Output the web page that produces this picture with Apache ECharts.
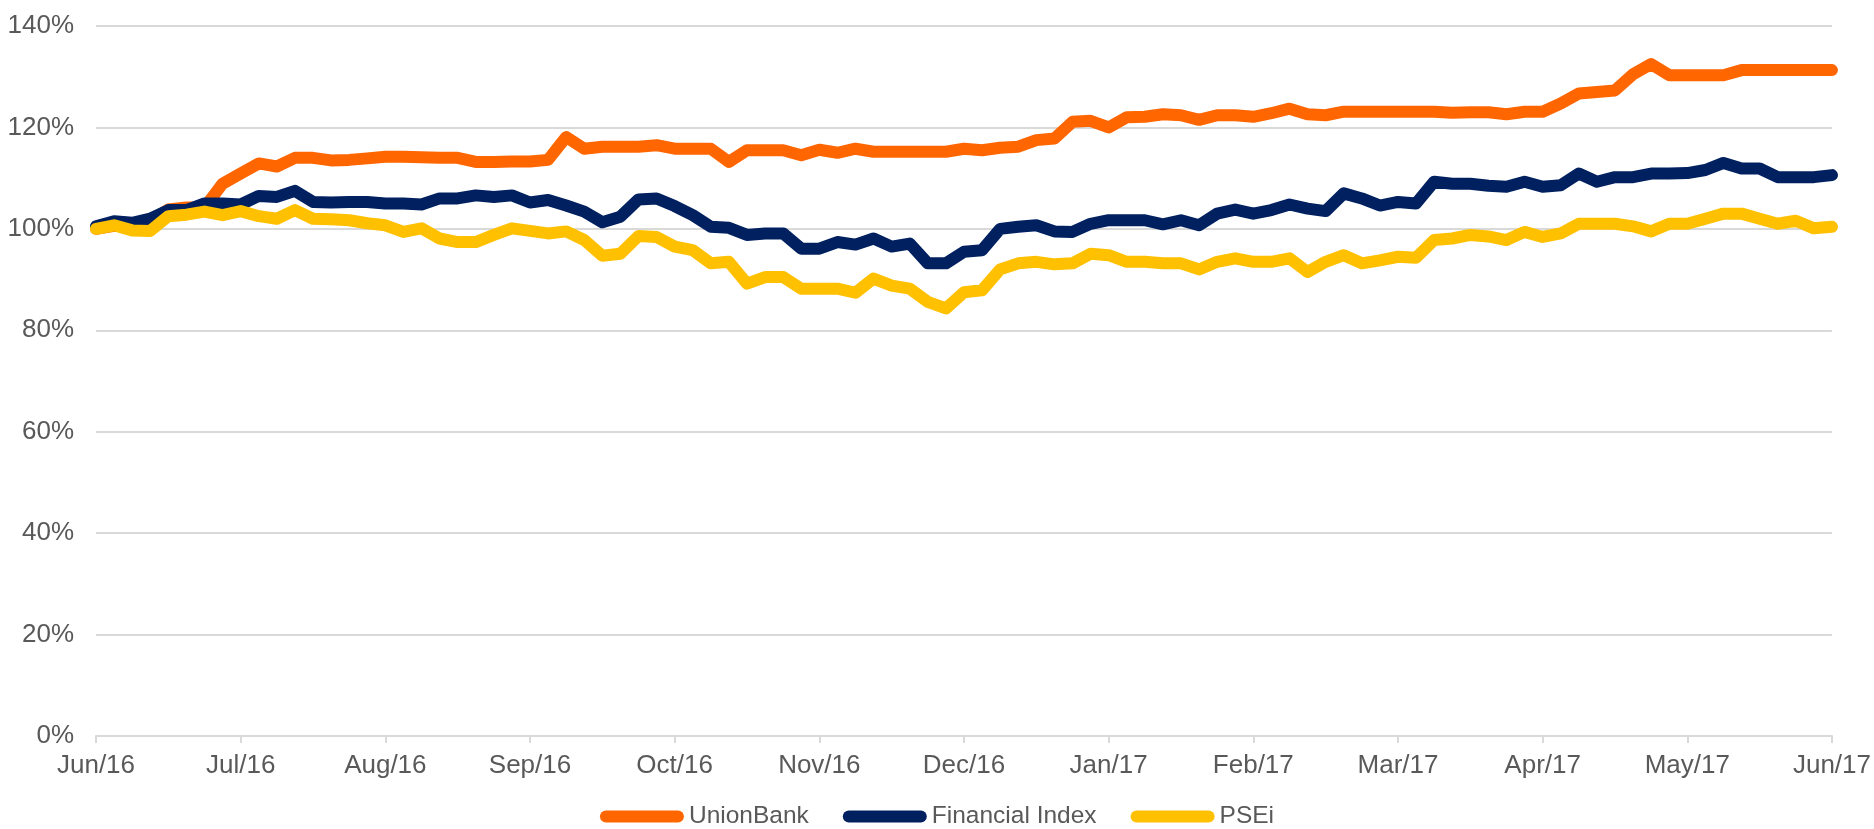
<!DOCTYPE html>
<html>
<head>
<meta charset="utf-8">
<script src="https://cdn.jsdelivr.net/npm/echarts@6/dist/echarts.min.js"></script>
<style>
    html, body { margin: 0; padding: 0; background: #fff; }
    #chart { width: 1874px; height: 829px; }
</style>
</head>
<body>
<div id="chart"></div>
<script>
// month tick labels, one every 8 points
let monthLabels = ['Jun/16', 'Jul/16', 'Aug/16', 'Sep/16', 'Oct/16', 'Nov/16', 'Dec/16',
    'Jan/17', 'Feb/17', 'Mar/17', 'Apr/17', 'May/17', 'Jun/17'];
let pointsPerMonth = 8;

// relative performance, % of start value
let unionBank = [
    100, 100.6, 100.4, 101.5, 103.8, 104.2, 104.2, 108.9, 110.9, 112.9, 112.3, 114.0, 114.0, 113.5, 113.6, 113.9,
    114.2, 114.2, 114.1, 114.0, 114.0, 113.2, 113.2, 113.3, 113.3, 113.6, 118.1, 115.8, 116.2, 116.2, 116.2, 116.5,
    115.8, 115.8, 115.8, 113.2, 115.5, 115.5, 115.5, 114.5, 115.6, 115.0, 115.8, 115.2, 115.2, 115.2, 115.2, 115.2,
    115.8, 115.5, 116.0, 116.2, 117.5, 117.8, 121.1, 121.3, 120.0, 122.0, 122.1, 122.6, 122.4, 121.5, 122.4, 122.4,
    122.1, 122.8, 123.7, 122.6, 122.4, 123.1, 123.1, 123.1, 123.1, 123.1, 123.1, 122.9, 123.0, 123.0, 122.6, 123.1,
    123.1, 124.7, 126.7, 127.0, 127.3, 130.5, 132.5, 130.3, 130.3, 130.3, 130.3, 131.3, 131.3, 131.3, 131.3, 131.3, 131.3
];
let financialIndex = [
    100.5, 101.5, 101.2, 102.0, 103.7, 103.7, 105.0, 105.0, 104.8, 106.5, 106.3, 107.5, 105.3, 105.2, 105.3, 105.3,
    105.0, 105.0, 104.8, 106.0, 106.0, 106.6, 106.3, 106.6, 105.2, 105.7, 104.6, 103.4, 101.3, 102.4, 105.8, 106.0,
    104.5, 102.7, 100.4, 100.2, 98.8, 99.1, 99.1, 96.1, 96.1, 97.4, 96.9, 98.1, 96.5, 97.1, 93.2, 93.2,
    95.5, 95.8, 100.0, 100.4, 100.7, 99.5, 99.4, 101.0, 101.7, 101.7, 101.7, 100.9, 101.7, 100.7, 103.0, 103.8,
    103.0, 103.7, 104.8, 104.0, 103.5, 107.0, 106.0, 104.6, 105.3, 105.0, 109.3, 108.9, 108.9, 108.5, 108.3, 109.3,
    108.3, 108.6, 110.9, 109.3, 110.2, 110.2, 110.9, 110.9, 111.0, 111.6, 113.0, 111.9, 111.9, 110.2, 110.2, 110.2, 110.6
];
let psei = [
    100, 100.7, 99.7, 99.6, 102.5, 102.8, 103.4, 102.7, 103.5, 102.5, 102.0, 103.7, 102.0, 101.9, 101.7, 101.1,
    100.7, 99.4, 100.1, 98.1, 97.4, 97.4, 98.8, 100.1, 99.6, 99.1, 99.5, 97.8, 94.7, 95.1, 98.6, 98.4,
    96.5, 95.8, 93.2, 93.5, 89.2, 90.5, 90.5, 88.2, 88.2, 88.2, 87.4, 90.2, 88.8, 88.2, 85.6, 84.3,
    87.5, 87.9, 92.0, 93.2, 93.5, 93.0, 93.2, 95.1, 94.8, 93.5, 93.5, 93.2, 93.2, 92.0, 93.5, 94.2,
    93.5, 93.5, 94.2, 91.5, 93.5, 94.8, 93.2, 93.8, 94.5, 94.3, 97.8, 98.1, 98.8, 98.5, 97.8, 99.4,
    98.4, 99.1, 101.0, 101.0, 101.0, 100.5, 99.5, 101.0, 101.0, 102.0, 103.0, 103.0, 102.0, 101.0, 101.6, 100.1, 100.4
];

let categories = [];
for (let i = 0; i < unionBank.length; i++) {
    let m = monthLabels[Math.floor(i / pointsPerMonth)];
    categories.push(i % pointsPerMonth === 0 ? m : m + '-' + (i % pointsPerMonth));
}

let textColor = '#595959';
let gridColor = '#d9d9d9';
let font = 'Liberation Sans, Arial, sans-serif';
let capsule = 'path://M6,0 H78 A6,6 0 0 1 78,12 H6 A6,6 0 0 1 6,0 Z';

function lineSeries(name, data, color) {
    return {
        name: name,
        type: 'line',
        data: data,
        showSymbol: false,
        symbol: 'none',
        lineStyle: { color: color, width: 12, cap: 'round', join: 'round' },
        itemStyle: { color: color }
    };
}

let myChart = echarts.init(document.getElementById('chart'));
myChart.setOption({
    animation: false,
    backgroundColor: '#fff',
    grid: { left: 96, right: 39, top: 26, bottom: 93 },
    legend: {
        top: 799,
        left: 'center',
        icon: capsule,
        itemWidth: 84,
        itemHeight: 12,
        itemGap: 34,
        textStyle: { color: textColor, fontSize: 24.5, fontFamily: font },
        data: ['UnionBank', 'Financial Index', 'PSEi']
    },
    xAxis: {
        type: 'category',
        boundaryGap: false,
        data: categories,
        axisLine: { lineStyle: { color: gridColor, width: 2 } },
        axisTick: { show: true, interval: pointsPerMonth - 1, length: 7, lineStyle: { color: gridColor, width: 2 } },
        axisLabel: {
            interval: pointsPerMonth - 1,
            color: textColor,
            fontSize: 26,
            fontFamily: font,
            margin: 17
        },
        splitLine: { show: false }
    },
    yAxis: {
        type: 'value',
        min: 0,
        max: 140,
        interval: 20,
        axisLine: { show: false },
        axisTick: { show: false },
        axisLabel: {
            color: textColor,
            fontSize: 26,
            fontFamily: font,
            margin: 22,
            formatter: '{value}%'
        },
        splitLine: { lineStyle: { color: gridColor, width: 2 } }
    },
    series: [
        lineSeries('UnionBank', unionBank, '#ff6600'),
        lineSeries('Financial Index', financialIndex, '#002060'),
        lineSeries('PSEi', psei, '#ffc000')
    ]
});
</script>
</body>
</html>
